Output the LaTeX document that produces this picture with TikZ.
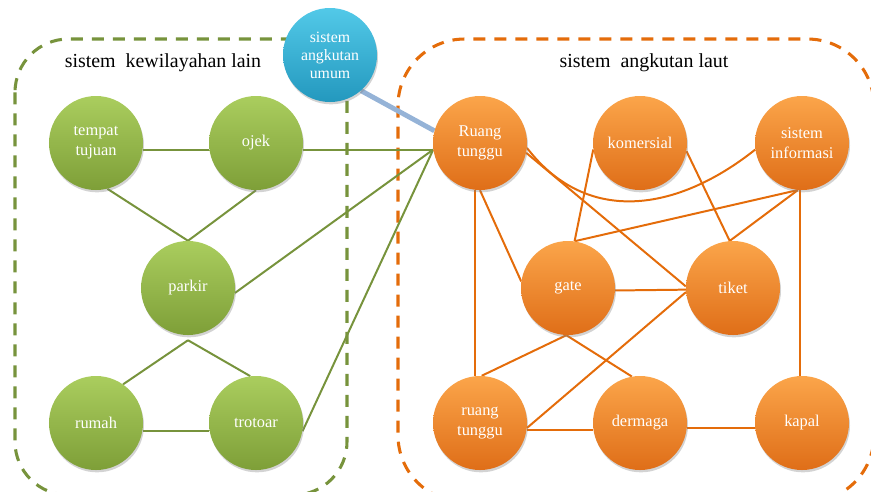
\documentclass[tikz,border=0pt]{standalone}
\usepackage{fontspec}
\setmainfont{Liberation Serif}
\usepackage{tikz}
\usetikzlibrary{positioning}
\usetikzlibrary{shadows}
\usetikzlibrary{backgrounds}
\usetikzlibrary{calc}
\definecolor{oliveTop}{HTML}{AACD5E}
\definecolor{oliveBot}{HTML}{7E9F38}
\definecolor{oliveLine}{HTML}{77933C}
\definecolor{orangeTop}{HTML}{FBA54A}
\definecolor{orangeBot}{HTML}{DF6E18}
\definecolor{orangeLine}{HTML}{E46C0A}
\definecolor{aquaTop}{HTML}{52C9E8}
\definecolor{aquaBot}{HTML}{2398BE}
\definecolor{linkBlue}{HTML}{95B3D7}
\tikzset{
% bubble look shared by all nodes
ball/.style={circle, minimum size=2.82cm, inner sep=0, align=center,
  text=white, font=\fontsize{14}{17}\selectfont,
  drop shadow={opacity=0.35, shadow xshift=0.03cm, shadow yshift=-0.07cm}},
wil/.style={ball, top color=oliveTop, bottom color=oliveBot},
laut/.style={ball, top color=orangeTop, bottom color=orangeBot},
umumball/.style={ball, top color=aquaTop, bottom color=aquaBot},
glink/.style={draw=oliveLine, line width=1.7pt},
olink/.style={draw=orangeLine, line width=1.7pt},
region/.style={line width=2.6pt, dash pattern=on 0.36cm off 0.27cm}
}
\begin{document}
\begin{tikzpicture}[x=0.03cm, y=-0.03cm]
  \clip (0,0) rectangle (871,491);

  % sistem kewilayahan lain
  \node[wil] (tempat) at (96,143) {tempat\\tujuan};
  \node[wil] (ojek) at (256,143) {ojek};
  \node[wil] (parkir) at (188,288) {parkir};
  \node[wil] (rumah) at (96,423) {rumah};
  \node[wil] (trotoar) at (256,423) {trotoar};

  % sistem angkutan laut
  \node[laut] (ruang1) at (480,143) {Ruang\\tunggu};
  \node[laut] (komersial) at (640,143) {komersial};
  \node[laut] (info) at (802,143) {sistem\\informasi};
  \node[laut] (gate) at (568,288) {gate};
  \node[laut] (tiket) at (733,288) {tiket};
  \node[laut] (ruang2) at (480,423) {ruang\\tunggu};
  \node[laut] (dermaga) at (640,423) {dermaga};
  \node[laut] (kapal) at (802,423) {kapal};

  \node[umumball, font=\fontsize{13.5}{15.5}\selectfont] (umum) at (330,55) {sistem\\angkutan\\umum};

  \node[font=\fontsize{17}{20}\selectfont] (wilText) at (163,63) {sistem~ kewilayahan lain};
  \node[font=\fontsize{17}{20}\selectfont] (lautText) at (644,63) {sistem~ angkutan laut};

  \begin{scope}[on background layer]
    \draw[region, draw=oliveLine, rounded corners=1.6cm] (15,39) rectangle (347,495);
    \draw[region, draw=orangeLine, rounded corners=2cm] (398,39) rectangle (874,502);

    \draw[draw=linkBlue, line width=4.2pt] (umum.-49) -- (ruang1.165);

    \draw[glink] (tempat.-8) -- (ojek.188);
    \draw[glink] (tempat.-76) -- (parkir.north);
    \draw[glink] (ojek.-90) -- (parkir.north);
    \draw[glink] ([yshift=-0.15cm]parkir.south) -- (rumah.55);
    \draw[glink] ([yshift=-0.15cm]parkir.south) -- (trotoar.97);
    \draw[glink] (rumah.-10) -- (trotoar.190);
    \draw[glink] (ojek.-8) -- (ruang1.188);
    \draw[glink] (parkir.-6) -- (ruang1.188);
    \draw[glink] (trotoar.-10) -- (ruang1.188);

    \draw[olink] (ruang1.-12) -- (tiket.178);
    \draw[olink] (ruang1.-6) .. controls ($(ruang1.-6)+(60,78)$) and ($(info.188)+(-78,62)$) .. (info.188);
    \draw[olink] (ruang1.-90) -- (gate.172);
    \draw[olink] (ruang1.-96) -- (ruang2.96);
    \draw[olink] (komersial.188) -- (gate.82);
    \draw[olink] (komersial.-10) -- (tiket.94);
    \draw[olink] (info.-95) -- (gate.82);
    \draw[olink] (info.-95) -- (tiket.94);
    \draw[olink] (info.-93) -- (kapal.93);
    \draw[olink] (gate.-3) -- (tiket.182);
    \draw[olink] (gate.-92) -- (ruang2.88);
    \draw[olink] (gate.-92) -- (dermaga.100);
    \draw[olink] (tiket.185) -- (ruang2.-6);
    \draw[olink] (ruang2.-8) -- (dermaga.188);
    \draw[olink] (dermaga.-6) -- (kapal.186);
  \end{scope}
\end{tikzpicture}
\end{document}
